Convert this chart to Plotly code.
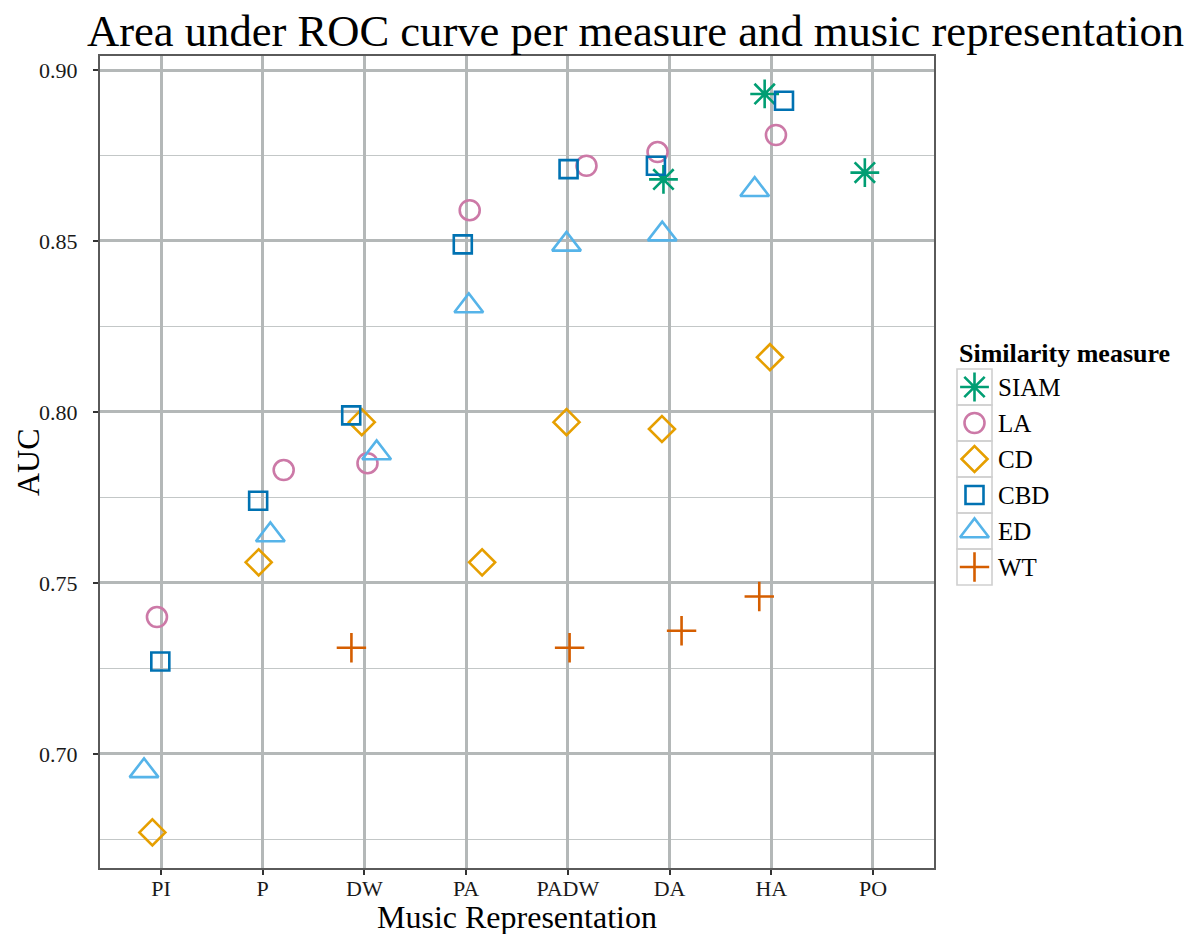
import plotly.graph_objects as go

# Music representations (x categories)
categories = ["PI", "P", "DW", "PA", "PADW", "DA", "HA", "PO"]

# AUC per similarity measure (None = not evaluated for that representation)
auc_siam = [None, None, None, None, None, 0.868, 0.893, 0.870]
auc_la = [0.740, 0.783, 0.785, 0.859, 0.872, 0.876, 0.881, None]
auc_cd = [0.677, 0.756, 0.797, 0.756, 0.797, 0.795, 0.816, None]
auc_cbd = [0.727, 0.774, 0.799, 0.849, 0.871, 0.872, 0.891, None]
auc_ed = [0.695, 0.764, 0.788, 0.831, 0.849, 0.852, 0.865, None]
auc_wt = [None, None, 0.731, None, 0.731, 0.736, 0.746, None]

# horizontal jitter per point, in category units
jit_siam = [0, 0, 0, 0, 0, -0.060, -0.065, -0.080]
jit_la = [-0.040, 0.206, 0.030, 0.035, 0.183, -0.118, 0.046, 0]
jit_cd = [-0.085, -0.040, -0.026, 0.157, -0.013, -0.075, -0.013, 0]
jit_cbd = [-0.007, -0.045, -0.130, -0.033, 0.007, -0.134, 0.125, 0]
jit_ed = [-0.167, 0.075, 0.120, 0.026, -0.013, -0.072, -0.163, 0]
jit_wt = [0, 0, -0.128, 0, 0.017, 0.118, -0.118, 0]

measures = [
    ("SIAM", auc_siam, jit_siam, "asterisk-open", "#009E73", 24),
    ("LA", auc_la, jit_la, "circle-open", "#CC79A7", 20),
    ("CD", auc_cd, jit_cd, "diamond-open", "#E69F00", 20),
    ("CBD", auc_cbd, jit_cbd, "square-open", "#0072B2", 18),
    ("ED", auc_ed, jit_ed, "triangle-up-open", "#56B4E9", 25),
    ("WT", auc_wt, jit_wt, "cross-thin-open", "#D55E00", 21),
]

W, H = 1197, 934
L, T, B = 100, 56, 66
PANEL_RIGHT = 934            # right edge of the plotting panel, px
PAPER_W = W - L
PAPER_H = H - T - B
main_dom = (PANEL_RIGHT - L) / PAPER_W

serif = "Liberation Serif, Times New Roman, serif"
major = "#b4b8b8"
minor = "#c3c7c7"

fig = go.Figure()
for name, vals, jit, sym, col, size in measures:
    xs, ys = [], []
    for i, v in enumerate(vals):
        if v is not None:
            xs.append(i + jit[i])
            ys.append(v)
    fig.add_trace(go.Scatter(
        x=xs, y=ys, mode="markers", name=name, showlegend=False,
        marker=dict(symbol=sym, size=size, color=col,
                    line=dict(color=col, width=2.6)),
    ))

# Axis titles, placed in pixels relative to the panel
annotations = [
    dict(text="Music Representation", xref="paper", yref="paper",
         x=main_dom / 2, y=-(917 - (H - B)) / PAPER_H,
         xanchor="center", yanchor="middle", showarrow=False,
         font=dict(size=32, color="black", family=serif)),
    dict(text="AUC", xref="paper", yref="paper", textangle=-90,
         x=-(L - 28) / PAPER_W, y=0.5,
         xanchor="center", yanchor="middle", showarrow=False,
         font=dict(size=32, color="black", family=serif)),
]

# Legend panel: drawn on its own pixel-scaled axes to the right of the plot,
# with a bordered key box per measure (ggplot-style legend keys).
LEG_X0 = 957
KEY = 36
ROW0 = 369
shapes = []
annotations.append(dict(
    text="<b>Similarity measure</b>", x=LEG_X0, y=ROW0 - 16,
    xref="x2", yref="y2", xanchor="left", yanchor="middle",
    showarrow=False, font=dict(size=26, color="black", family=serif),
))
for k, (name, vals, jit, sym, col, size) in enumerate(measures):
    top = ROW0 + k * KEY
    cy = top + KEY / 2
    shapes.append(dict(type="rect", xref="x2", yref="y2",
                       x0=LEG_X0, x1=LEG_X0 + KEY - 1, y0=top, y1=top + KEY,
                       line=dict(color="#cfcfcf", width=1.6),
                       fillcolor="rgba(0,0,0,0)", layer="below"))
    fig.add_trace(go.Scatter(
        x=[LEG_X0 + (KEY - 1) / 2], y=[cy], xaxis="x2", yaxis="y2",
        mode="markers", showlegend=False, hoverinfo="skip",
        marker=dict(symbol=sym, size=size, color=col,
                    line=dict(color=col, width=2.6)),
    ))
    annotations.append(dict(
        text=name, x=LEG_X0 + KEY + 3, y=cy, xref="x2", yref="y2",
        xanchor="left", yanchor="middle", showarrow=False,
        font=dict(size=25, color="black", family=serif),
    ))

fig.update_layout(
    width=W, height=H, autosize=False,
    margin=dict(l=L, r=0, t=T, b=B),
    paper_bgcolor="white", plot_bgcolor="white",
    font=dict(family=serif, color="#1a1a1a"),
    title=dict(text="Area under ROC curve per measure and music representation",
               font=dict(size=44.6, color="black"),
               x=87 / W, xanchor="left", xref="container",
               y=1 - 30 / H, yanchor="middle", yref="container"),
    xaxis=dict(
        domain=[0, main_dom],
        range=[-0.6, 7.6], tickmode="array",
        tickvals=list(range(len(categories))), ticktext=categories,
        showgrid=True, gridcolor=major, gridwidth=2.5,
        zeroline=False, showline=True, mirror=True,
        linecolor="#5a5a5a", linewidth=2, automargin=False,
        ticks="outside", ticklen=5, tickwidth=1.5, tickcolor="#333",
        ticklabelstandoff=-5,
        tickfont=dict(size=22, color="#1a1a1a"),
    ),
    yaxis=dict(
        range=[0.6666, 0.9041], tickmode="array",
        tickvals=[0.70, 0.75, 0.80, 0.85, 0.90],
        ticktext=["0.70", "0.75", "0.80", "0.85", "0.90"],
        showgrid=True, gridcolor=major, gridwidth=2.5,
        minor=dict(tickvals=[0.675, 0.725, 0.775, 0.825, 0.875],
                   showgrid=True, gridcolor=minor, gridwidth=1.2, ticks=""),
        zeroline=False, showline=True, mirror=True,
        linecolor="#5a5a5a", linewidth=2, automargin=False,
        ticks="outside", ticklen=5, tickwidth=1.5, tickcolor="#333",
        ticklabelstandoff=11,
        tickfont=dict(size=22, color="#1a1a1a"),
    ),
    xaxis2=dict(domain=[(LEG_X0 - 2 - L) / PAPER_W, 1],
                range=[LEG_X0 - 2, W], visible=False, fixedrange=True),
    yaxis2=dict(domain=[0, 1], range=[H - B, T], anchor="x2",
                visible=False, fixedrange=True),
    shapes=shapes,
    annotations=annotations,
    showlegend=False,
)

fig.write_html("out.html")
